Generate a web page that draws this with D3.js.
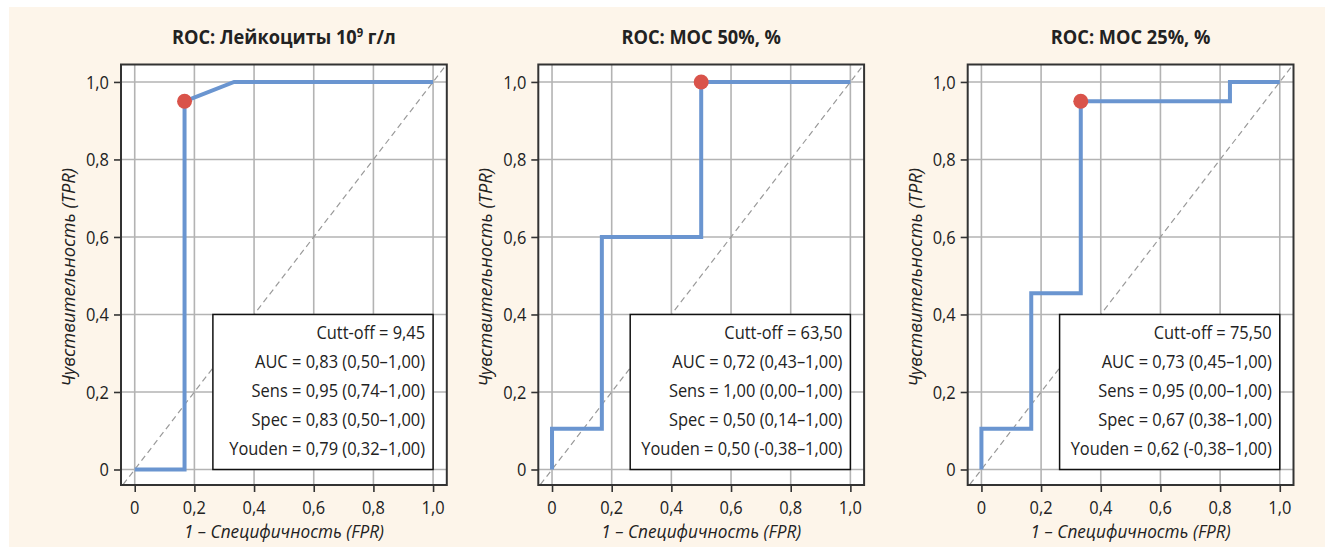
<!DOCTYPE html>
<html><head><meta charset="utf-8">
<script src="https://cdn.jsdelivr.net/npm/d3@7"></script>
<style>
html,body{margin:0;padding:0;background:#fff;}
svg{display:block;}
text{font-family:"Open Sans","Noto Sans",sans-serif;fill:#222;}
</style></head>
<body>
<svg id="c" width="1325" height="547"></svg>
<script>
// ---- data ----
const titleMain = ["ROC: Лейкоциты 10", "ROC: МОС 50%, %", "ROC: МОС 25%, %"];
const titleSup = ["9", "", ""];
const titleTail = [" г/л", "", ""];
const fpr1 = [0, 0.167, 0.167, 0.333, 1];
const tpr1 = [0, 0, 0.95, 1, 1];
const fpr2 = [0, 0, 0.167, 0.167, 0.5, 0.5, 1];
const tpr2 = [0, 0.105, 0.105, 0.6, 0.6, 1, 1];
const fpr3 = [0, 0, 0.167, 0.167, 0.333, 0.333, 0.833, 0.833, 1];
const tpr3 = [0, 0.105, 0.105, 0.455, 0.455, 0.95, 0.95, 1, 1];
const cutFpr = [0.167, 0.5, 0.333];
const cutTpr = [0.95, 1.0, 0.95];
const stats1 = ["Cutt-off = 9,45", "AUC = 0,83 (0,50–1,00)", "Sens = 0,95 (0,74–1,00)", "Spec = 0,83 (0,50–1,00)", "Youden = 0,79 (0,32–1,00)"];
const stats2 = ["Cutt-off = 63,50", "AUC = 0,72 (0,43–1,00)", "Sens = 1,00 (0,00–1,00)", "Spec = 0,50 (0,14–1,00)", "Youden = 0,50 (-0,38–1,00)"];
const stats3 = ["Cutt-off = 75,50", "AUC = 0,73 (0,45–1,00)", "Sens = 0,95 (0,00–1,00)", "Spec = 0,67 (0,38–1,00)", "Youden = 0,62 (-0,38–1,00)"];
const ticks = [0, 0.2, 0.4, 0.6, 0.8, 1.0];
const tickLabels = ["0", "0,2", "0,4", "0,6", "0,8", "1,0"];
const xLabel = "1 – Специфичность (FPR)";
const yLabel = "Чувствительность (TPR)";

const fprs = [fpr1, fpr2, fpr3], tprs = [tpr1, tpr2, tpr3], stats = [stats1, stats2, stats3];

// ---- helpers: condensed text via horizontal scale ----
const svg = d3.select("#c");
function measure(str, size, weight, style) {
  const t = svg.append("text").attr("font-size", size).attr("font-weight", weight || "normal")
    .attr("font-style", style || "normal").text(str);
  const w = t.node().getComputedTextLength();
  t.remove();
  return w;
}
const FS = 19, FS_T = 19.5, FS_I = 18.5;
const fReg = 196 / measure("Youden = 0,79 (0,32–1,00)", FS);
const fIt = 200 / measure(xLabel, FS_I, "normal", "italic");
const fItY = 219 / measure(yLabel, FS_I, "normal", "italic");

function txt(parent, str, x, y, opts) {
  opts = opts || {};
  const f = opts.f || fReg;
  const rot = opts.rotate ? ` rotate(${opts.rotate})` : "";
  return parent.append("text")
    .attr("transform", `translate(${x},${y})${rot} scale(${f},1)`)
    .attr("text-anchor", opts.anchor || "start")
    .attr("font-size", opts.size || FS)
    .attr("font-style", opts.style || "normal")
    .attr("font-weight", opts.weight || "normal")
    .text(str);
}

// ---- layout ----
svg.append("rect").attr("x", 9).attr("y", 7).attr("width", 1325 - 9).attr("height", 547 - 7).attr("fill", "#fdf5ea");

const boxLefts = [121, 538.3, 967.7];
const boxW = 325.8, boxTop = 64.5, boxBot = 485;
const legendX0 = 0.262, legendY0 = 0, legendY1 = 0.4, legendX1 = 1.0;

boxLefts.forEach((bx, i) => {
  const x = d3.scaleLinear().domain([-0.046, 1.046]).range([bx, bx + boxW]);
  const y = d3.scaleLinear().domain([-0.04, 1.045]).range([boxBot, boxTop]);
  const g = svg.append("g");
  const clipId = "clip" + i;
  g.append("clipPath").attr("id", clipId).append("rect")
    .attr("x", bx).attr("y", boxTop).attr("width", boxW).attr("height", boxBot - boxTop);

  g.append("rect").attr("x", bx).attr("y", boxTop).attr("width", boxW).attr("height", boxBot - boxTop).attr("fill", "#fff");

  // grid
  const grid = g.append("g").attr("clip-path", `url(#${clipId})`);
  grid.selectAll(".gx").data(ticks).join("line").attr("class", "gx")
    .attr("x1", d => x(d)).attr("x2", d => x(d)).attr("y1", boxTop).attr("y2", boxBot)
    .attr("stroke", "#b3b3b3").attr("stroke-width", 1.6);
  grid.selectAll(".gy").data(ticks).join("line").attr("class", "gy")
    .attr("y1", d => y(d)).attr("y2", d => y(d)).attr("x1", bx).attr("x2", bx + boxW)
    .attr("stroke", "#b3b3b3").attr("stroke-width", 1.6);

  // diagonal
  grid.append("line").attr("x1", x(-0.1)).attr("y1", y(-0.1)).attr("x2", x(1.1)).attr("y2", y(1.1))
    .attr("stroke", "#9a9a9a").attr("stroke-width", 1.2).attr("stroke-dasharray", "6,4");

  // curve
  const pts = fprs[i].map((f, k) => [f, tprs[i][k]]);
  g.append("path").datum(pts)
    .attr("d", d3.line().x(d => x(d[0])).y(d => y(d[1])))
    .attr("fill", "none").attr("stroke", "#6a95d0").attr("stroke-width", 4).attr("stroke-linejoin", "miter");

  g.append("circle").attr("cx", x(cutFpr[i])).attr("cy", y(cutTpr[i])).attr("r", 7.5).attr("fill", "#d9534a");

  // legend
  const lx0 = x(legendX0), lx1 = x(legendX1), ly0 = y(legendY1), ly1 = y(legendY0);
  g.append("rect").attr("x", lx0).attr("y", ly0).attr("width", lx1 - lx0).attr("height", ly1 - ly0)
    .attr("fill", "#fff").attr("stroke", "#111").attr("stroke-width", 1.5);
  stats[i].forEach((s, k) => txt(g, s, lx1 - 8, ly0 + 25 + k * 29, { anchor: "end" }));

  // box border
  g.append("rect").attr("x", bx).attr("y", boxTop).attr("width", boxW).attr("height", boxBot - boxTop)
    .attr("fill", "none").attr("stroke", "#333").attr("stroke-width", 2);

  // axes (ticks via d3 axis, labels placed manually for condensed text)
  const xa = g.append("g").attr("transform", `translate(0,${boxBot})`)
    .call(d3.axisBottom(x).tickValues(ticks).tickFormat("").tickSize(7));
  const ya = g.append("g").attr("transform", `translate(${bx},0)`)
    .call(d3.axisLeft(y).tickValues(ticks).tickFormat("").tickSize(7));
  [xa, ya].forEach(a => {
    a.select(".domain").remove();
    a.selectAll(".tick line").attr("stroke", "#333").attr("stroke-width", 1.6);
  });
  ticks.forEach((t, k) => {
    txt(g, tickLabels[k], x(t), 513.5, { anchor: "middle" });
    txt(g, tickLabels[k], bx - 12, y(t) + 6.7, { anchor: "end" });
  });

  // axis titles
  const cx = bx + boxW / 2;
  txt(g, xLabel, cx, 538, { anchor: "middle", style: "italic", size: FS_I, f: fIt });
  txt(g, yLabel, bx - 46, 277.5, { anchor: "middle", style: "italic", size: FS_I, f: fItY, rotate: -90 });

  // title
  const t = txt(g, titleMain[i], cx, 44, { anchor: "middle", weight: "bold", size: FS_T, f: 1 });
  if (titleSup[i]) {
    t.append("tspan").attr("dy", -7).attr("font-size", 12).text(titleSup[i]);
    t.append("tspan").attr("dy", 7).text(titleTail[i]);
  }
});
// condense titles so the first spans ~224px
const titles = svg.selectAll("text").filter(function () { return d3.select(this).attr("font-weight") === "bold"; });
const w0 = titles.nodes()[0].getComputedTextLength();
const fB = 224 / w0;
titles.each(function () {
  const s = d3.select(this);
  s.attr("transform", s.attr("transform").replace(/scale\([^)]*\)/, `scale(${fB},1)`));
});
</script>
</body></html>
